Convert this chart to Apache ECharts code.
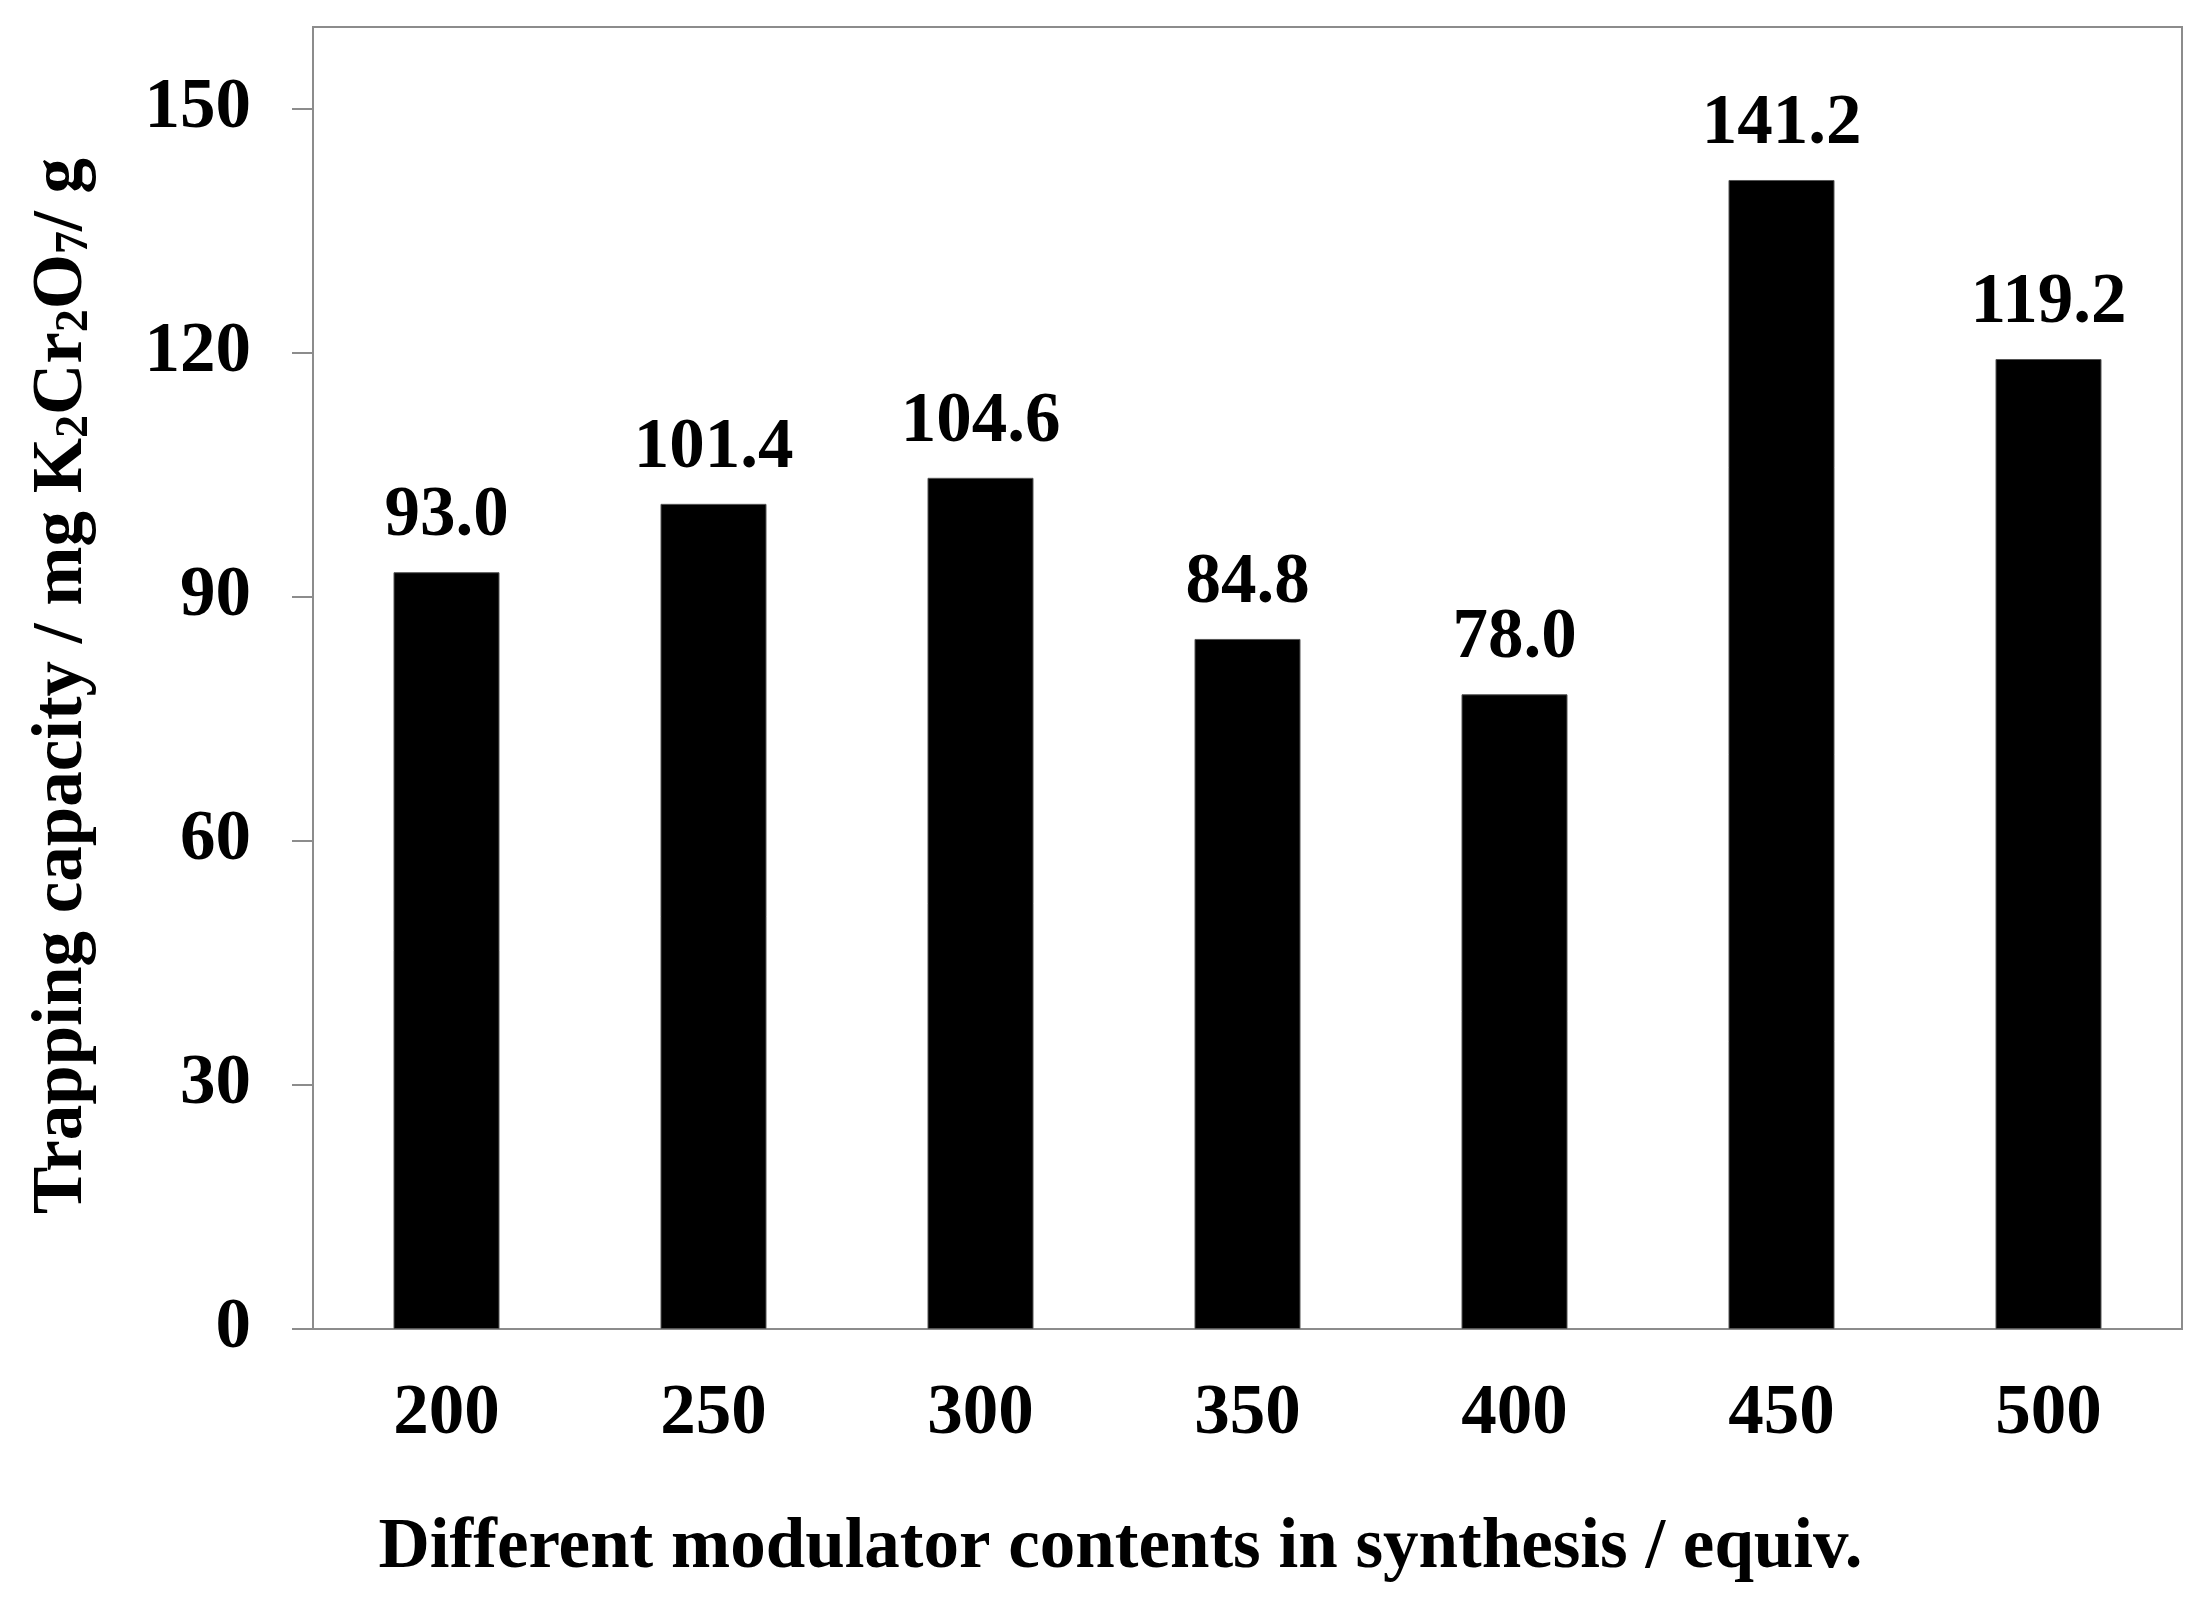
<!DOCTYPE html>
<html>
<head>
<meta charset="utf-8">
<script src="https://cdn.jsdelivr.net/npm/echarts@6/dist/echarts.min.js"></script>
<style>
html,body{margin:0;padding:0;background:#fff;}
#chart{width:2208px;height:1598px;}
</style>
</head>
<body>
<div id="chart"></div>
<script>
const categories = ['200', '250', '300', '350', '400', '450', '500'];
const capacity = [93.0, 101.4, 104.6, 84.8, 78.0, 141.2, 119.2];
const yTicks = [0, 30, 60, 90, 120, 150];
const xTitle = 'Different modulator contents in synthesis / equiv.';
const yTitle = 'Trapping capacity / mg K{s|2}Cr{s|2}O{s|7}/ g';

const FONT = 'Liberation Serif';
const GREY = '#8c8c8c';

const chart = echarts.init(document.getElementById('chart'));
chart.setOption({
  backgroundColor: '#fff',
  animation: false,
  grid: {
    left: 313, right: 26, top: 27, bottom: 269,
    show: true, borderColor: GREY, borderWidth: 2, backgroundColor: 'transparent'
  },
  xAxis: {
    type: 'category',
    data: categories,
    axisLine: { show: true, lineStyle: { color: GREY, width: 2 } },
    axisTick: { show: false },
    axisLabel: { margin: 50, color: '#000', fontFamily: FONT, fontWeight: 'bold', fontSize: 71 },
    name: xTitle,
    nameLocation: 'middle',
    nameGap: 184,
    nameTextStyle: { color: '#000', fontFamily: FONT, fontWeight: 'bold', fontSize: 71, padding: [0, 254, 0, 0] }
  },
  yAxis: {
    type: 'value',
    min: 0, max: 160, interval: 30,
    splitLine: { show: false },
    axisLine: { show: true, lineStyle: { color: GREY, width: 2 } },
    axisTick: { show: true, inside: false, length: 21, lineStyle: { color: GREY, width: 2 }, customValues: yTicks },
    axisLabel: { margin: 62, color: '#000', fontFamily: FONT, fontWeight: 'bold', fontSize: 71, customValues: yTicks },
    name: yTitle,
    nameLocation: 'middle',
    nameRotate: 90,
    nameGap: 215,
    nameTextStyle: {
      color: '#000', fontFamily: FONT, fontWeight: 'bold', fontSize: 71, padding: [0, 16, 0, 0],
      rich: { s: { fontFamily: FONT, fontWeight: 'bold', fontSize: 46, verticalAlign: 'bottom', lineHeight: 32, color: '#000' } }
    }
  },
  series: [{
    type: 'bar',
    data: capacity,
    barWidth: 106,
    itemStyle: { color: '#000', borderColor: '#555', borderWidth: 1 },
    label: {
      show: true, position: 'top', distance: 20,
      color: '#000', fontFamily: FONT, fontWeight: 'bold', fontSize: 71,
      formatter: p => p.value.toFixed(1)
    }
  }]
});
</script>
</body>
</html>
